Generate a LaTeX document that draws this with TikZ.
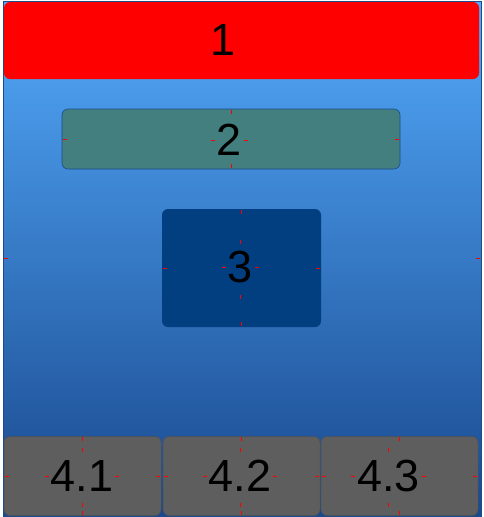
\documentclass[tikz,border=0pt]{standalone}
\usepackage{fontspec}
\setmainfont{Liberation Sans}
\definecolor{bgtop}{HTML}{53AAFB}
\definecolor{bgbot}{HTML}{19488E}
\definecolor{frame}{HTML}{1B4C8C}
\definecolor{tealbox}{HTML}{437F7F}
\definecolor{navybox}{HTML}{023F80}
\definecolor{greybox}{HTML}{5E5E5E}
\definecolor{greyedge}{HTML}{505050}
\begin{document}
\begin{tikzpicture}[x=1pt,y=1pt,
  panel/.style={rectangle,rounded corners=6pt,inner sep=0pt},
  greypanel/.style={panel,fill=greybox,draw=greyedge,line width=0.5pt,
    minimum width=157pt,minimum height=79pt},
  digits/.style={inner sep=0pt,font=\fontsize{45}{45}\selectfont,text=black},
  tick/.style={red,line width=1pt}]
\useasboundingbox (0,0) rectangle (483,-517);
% outer container
\shade[top color=bgtop,bottom color=bgbot] (3,-1) rectangle (481,-516);
\draw[frame,line width=0.8pt] (3,-1) rectangle (481,-516);
\coordinate (outW) at (3,-258);
\coordinate (outE) at (481,-258);
% panels
\node[panel,fill=red,minimum width=475pt,minimum height=77pt] (n1) at (241.5,-40.5) {};
\node[panel,fill=tealbox,draw=frame,line width=0.6pt,minimum width=338pt,minimum height=60pt] (n2) at (231,-139) {};
\node[panel,fill=navybox,minimum width=159pt,minimum height=118pt] (n3) at (241.5,-268) {};
\node[greypanel] (n41) at (82.5,-476) {};
\node[greypanel] (n42) at (241.5,-476) {};
\node[greypanel] (n43) at (399.5,-476) {};
% texts
\node[digits] (t1) at (223,-40) {1};
\node[digits] (t2) at (229.5,-140) {2};
\node[digits] (t3) at (240.5,-267.5) {3};
\node[digits] (t41) at (82,-476) {4.1};
\node[digits] (t42) at (240,-476) {4.2};
\node[digits] (t43) at (388.5,-476) {4.3};
% anchor ticks
\draw[tick] ([xshift=1pt]outW) -- ++(4,0);
\draw[tick] ([xshift=-1pt]outE) -- ++(-4,0);
\foreach \n/\t in {n2/t2,n3/t3,n41/t41,n42/t42,n43/t43}{
  \draw[tick] ([xshift=1pt]\n.west) -- ++(4,0);
  \draw[tick] ([xshift=-1pt]\n.east) -- ++(-4,0);
  \draw[tick] ([yshift=-1pt]\n.north) -- ++(0,-4);
  \draw[tick] ([yshift=1pt]\n.south) -- ++(0,4);
  \draw[tick] ([xshift=-2pt]\t.west) -- ++(-4,0);
  \draw[tick] ([xshift=2pt]\t.east) -- ++(4,0);
}
\foreach \t in {t3,t41,t42,t43}{
  \draw[tick] ([yshift=24pt]\t.center) -- ++(0,4);
  \draw[tick] ([yshift=-27pt]\t.center) -- ++(0,-4);
}
\end{tikzpicture}
\end{document}
